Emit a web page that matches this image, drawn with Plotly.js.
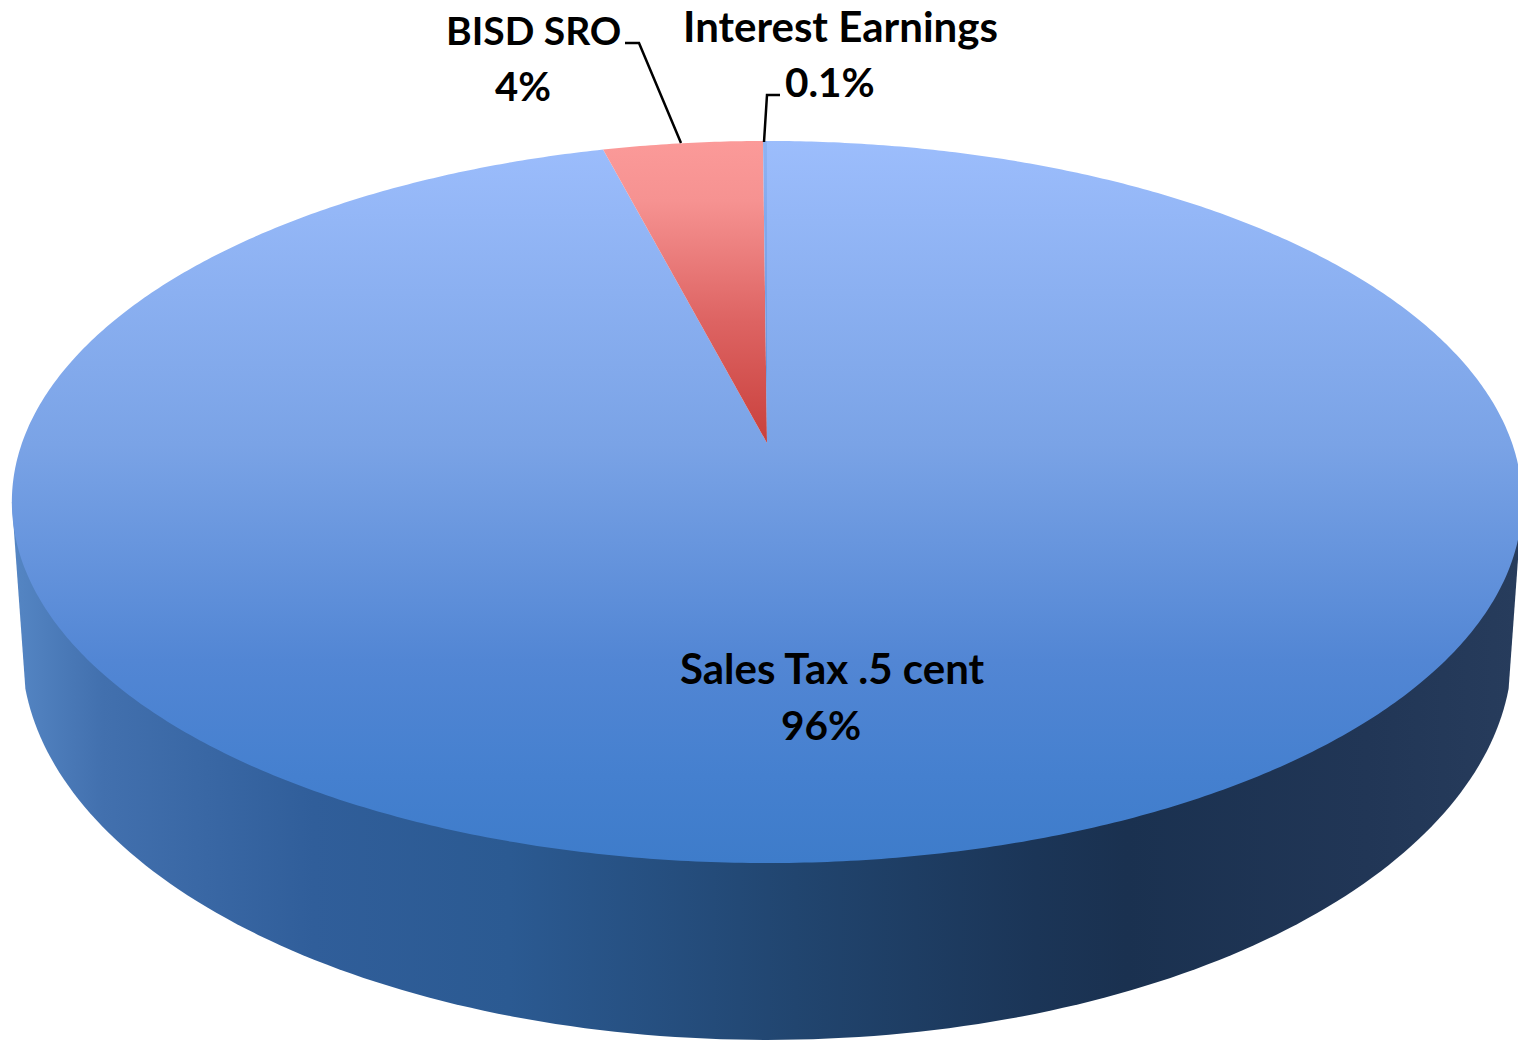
<!DOCTYPE html>
<html>
<head>
<meta charset="utf-8">
<script src="https://cdn.plot.ly/plotly-3.0.1.min.js"></script>
<style>html,body{margin:0;padding:0;background:#fff;overflow:hidden}#chart{width:1518px;height:1040px}</style>
</head>
<body>
<div id="chart"></div>
<script>
// ---- data ----
const sliceNames = ['Sales Tax .5 cent', 'BISD SRO', 'Interest Earnings'];
const sliceValues = [95.9, 4.0, 0.1];
const sliceShown = ['96%', '4%', '0.1%'];

// ---- projection of the tilted disc onto the page axes ----
const W = 1518, H = 1040;
const centreX = 767, topCentreY = 443, tilt = 0.1634;
const halfX = 745, halfY = 351.4;
const lowerCentreY = 586.3, lowerScaleX = 0.987, lowerScaleY = 1.08;
const rimStartDeg = 105;

function project(deg, cy, sx, sy) {
  const a = deg * Math.PI / 180, u = Math.sin(a), v = Math.cos(a), d = 1 + tilt * v;
  return [centreX + sx * halfX * u / d, cy - sy * halfY * v / d];
}
function wedge(from, to) {
  const xs = [centreX], ys = [topCentreY];
  const n = Math.max(2, Math.ceil(to - from) * 2);
  for (let i = 0; i <= n; i++) {
    const p = project(from + (to - from) * i / n, topCentreY, 1, 1);
    xs.push(p[0]); ys.push(p[1]);
  }
  xs.push(centreX); ys.push(topCentreY);
  return {x: xs, y: ys};
}

const total = sliceValues.reduce((a, b) => a + b, 0);
const sliceFills = [
  [[0, '#9cbdfc'], [0.42, '#7aa3e6'], [0.72, '#5286d4'], [0.88, '#4580cf'], [1, '#3e7cca']],
  [[0, '#fb9a99'], [0.2, '#f69291'], [0.6, '#dd6362'], [1, '#c9403c']],
  [[0, '#8fb3f3'], [1, '#5f8fd8']]
];
const sliceStops = [[141, 863], [141, 443], [141, 443]];
const sideFill = [[0, '#5586c4'], [0.06, '#4270ae'], [0.2, '#305e9a'], [0.33, '#2b5a92'], [0.52, '#21456f'],
                  [0.68, '#1b3557'], [0.74, '#1a3150'], [0.9, '#213656'], [1, '#273c5c']];

const traces = [];

// rim (side wall): lower rim near half, closed against the widest points of the top face
const widest = Math.acos(-tilt) * 180 / Math.PI;
const sideX = [], sideY = [];
for (let d = rimStartDeg; d <= 360 - rimStartDeg + 0.001; d += 1) {
  const p = project(d, lowerCentreY, lowerScaleX, lowerScaleY); sideX.push(p[0]); sideY.push(p[1]);
}
const tl = project(360 - widest, topCentreY, 1, 1), tr = project(widest, topCentreY, 1, 1);
sideX.push(tl[0]); sideY.push(tl[1]); sideX.push(tr[0]); sideY.push(tr[1]);
sideX.push(sideX[0]); sideY.push(sideY[0]);
traces.push({type: 'scatter', mode: 'none', x: sideX, y: sideY, fill: 'toself',
  fillgradient: {type: 'horizontal', colorscale: sideFill, start: 12, stop: 1518}, hoverinfo: 'skip', showlegend: false});

// top face slices, built from the values, clockwise from 12 o'clock
let acc = 0;
sliceValues.forEach((v, i) => {
  const from = acc / total * 360; acc += v;
  const w = wedge(from, acc / total * 360);
  traces.push({type: 'scatter', mode: 'none', name: sliceNames[i], x: w.x, y: w.y, fill: 'toself',
    fillgradient: {type: 'vertical', colorscale: sliceFills[i], start: sliceStops[i][0], stop: sliceStops[i][1]},
    hoverinfo: 'name', showlegend: false});
});

// leader lines
const leaderBisd = {x: [625, 639, 681], y: [43, 43, 143]};
const leaderInterest = {x: [780, 767, 764], y: [95, 95, 142]};
[leaderBisd, leaderInterest].forEach(l => traces.push({type: 'scatter', mode: 'lines', x: l.x, y: l.y,
  line: {color: '#000', width: 2.5}, hoverinfo: 'skip', showlegend: false}));

// labels
const namePos = [[832, 668], [533, 30], [840, 26]];
const valuePos = [[821, 724], [523, 86], [830, 81]];
const nameSizes = [42, 39, 42];
const valueSizes = [40.5, 40, 40.5];
const annotations = [];
function labelFont(size) {
  return {family: 'Lato, "Open Sans", sans-serif', size: size, color: '#000', weight: 700};
}
sliceNames.forEach((t, i) => {
  annotations.push({x: namePos[i][0], y: namePos[i][1], text: '<b>' + t + '</b>', showarrow: false, font: labelFont(nameSizes[i]), xanchor: 'center', yanchor: 'middle'});
  annotations.push({x: valuePos[i][0], y: valuePos[i][1], text: '<b>' + sliceShown[i] + '</b>', showarrow: false, font: labelFont(valueSizes[i]), xanchor: 'center', yanchor: 'middle'});
});

Plotly.newPlot('chart', traces, {
  width: W, height: H,
  margin: {l: 0, r: 0, t: 0, b: 0},
  paper_bgcolor: '#fff', plot_bgcolor: '#fff',
  showlegend: false,
  xaxis: {range: [0, W], visible: false, fixedrange: true},
  yaxis: {range: [H, 0], visible: false, fixedrange: true},
  annotations: annotations
}, {displayModeBar: false, staticPlot: true});
</script>
</body>
</html>
